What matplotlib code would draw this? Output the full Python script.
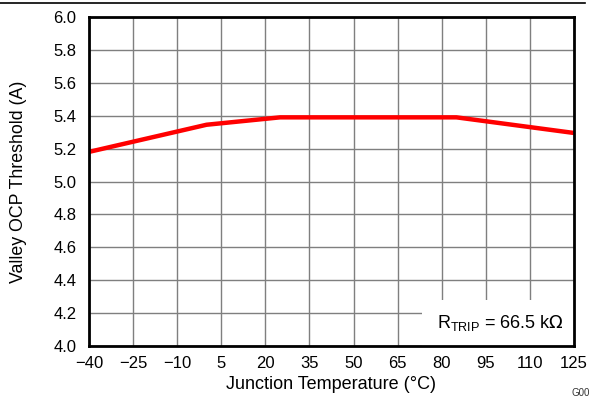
import matplotlib.pyplot as plt
from matplotlib.lines import Line2D
from matplotlib.patches import Rectangle

plt.rcParams['font.family'] = ['Liberation Sans', 'DejaVu Sans']

# Valley OCP threshold vs junction temperature
temp_c = [-40, 0, 25, 85, 125]
threshold_a = [5.18, 5.345, 5.39, 5.39, 5.295]

xticks = [-40, -25, -10, 5, 20, 35, 50, 65, 80, 95, 110, 125]
yticks = [4.0, 4.2, 4.4, 4.6, 4.8, 5.0, 5.2, 5.4, 5.6, 5.8, 6.0]

fig = plt.figure(figsize=(5.92, 4.0), dpi=100)
ax = fig.add_axes([0.1503, 0.135, 0.8193, 0.8225])

ax.plot(temp_c, threshold_a, color='#ff0000', lw=3.2, solid_capstyle='butt', zorder=3)

ax.set_xlim(-40, 125)
ax.set_ylim(4.0, 6.0)
ax.set_xticks(xticks)
ax.set_xticklabels([str(v).replace('-', '\u2212') for v in xticks])
ax.set_yticks(yticks)
ax.set_yticklabels([f'{v:.1f}' for v in yticks])
ax.tick_params(length=0, labelsize=12, colors='black')
ax.tick_params(axis='y', pad=9)
ax.tick_params(axis='x', pad=7)
ax.grid(True, color='#7f7f7f', lw=1.0, zorder=1)
ax.set_axisbelow(True)
for s in ax.spines.values():
    s.set_linewidth(2.0)
    s.set_zorder(5)

ax.set_xlabel('Junction Temperature (°C)', fontsize=13, labelpad=4)
ax.set_ylabel('Valley OCP Threshold (A)', fontsize=12.8, labelpad=19)

# annotation box (white, covers the grid)
ax.add_patch(Rectangle((-40 + 165 * (422 - 89) / 485, 4.0), 200, 0.28,
                       facecolor='white', edgecolor='none', zorder=2))
ax.text(121.5, 4.14, r'R$_{\mathregular{TRIP}}$ = 66.5 k$\Omega$', ha='right', va='center',
        fontsize=13, zorder=4)

# top rule and figure code
fig.add_artist(Line2D([0.0, 0.988], [0.993, 0.993], color='black', lw=1.2))
fig.text(0.997, 0.005, 'G00', fontsize=7, ha='right', va='bottom', color='#333333')

fig.savefig('out.png', dpi=100)
